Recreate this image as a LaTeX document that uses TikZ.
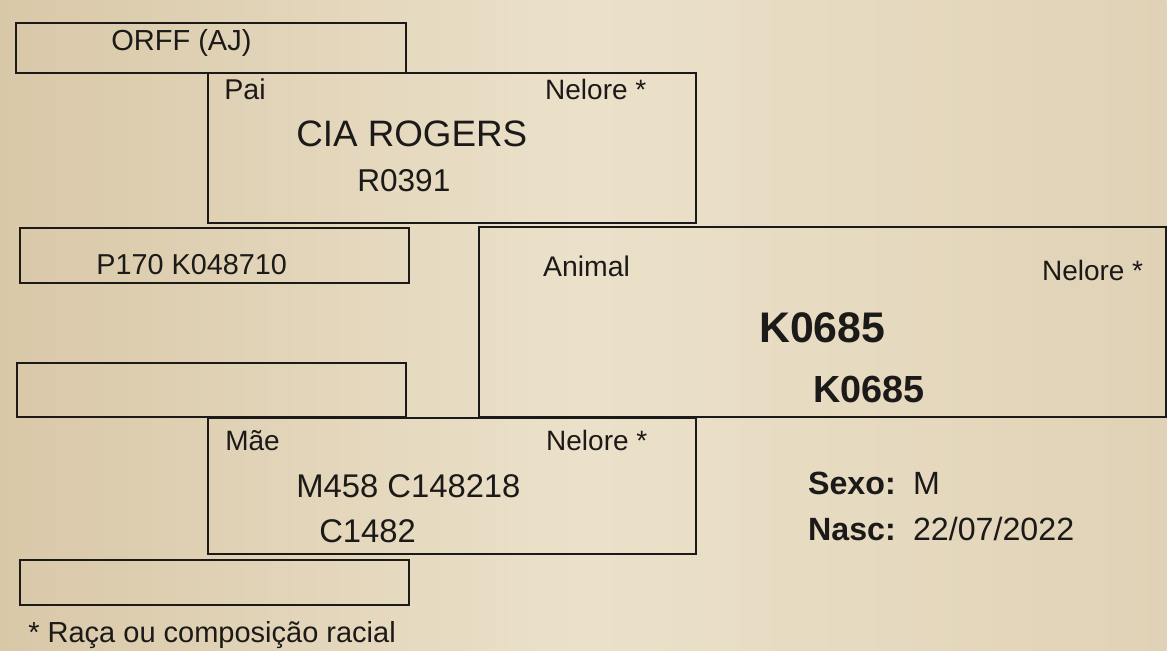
\documentclass[tikz,border=0pt]{standalone}
\usepackage{fontspec}
\setmainfont{Liberation Sans}
\usepackage{xcolor}
\usepackage{tikz}

\definecolor{paper}{RGB}{235,225,202}
\definecolor{paperdark}{RGB}{217,200,168}
\definecolor{ink}{RGB}{28,26,24}
\newcommand{\txtsize}[1]{\fontsize{#1}{#1}\selectfont}

\tikzset{
  box/.style={draw=ink, line width=1.2pt, inner sep=0pt, anchor=north west},
  boxsize/.style 2 args={minimum width=#1*0.5pt, minimum height=#2*0.5pt},
  lbl/.style={anchor=base west, inner sep=0pt, text=ink},
}

\begin{document}
\begin{tikzpicture}[x=0.5pt,y=-0.5pt]
\shade[left color=paperdark, right color=paperdark!60!paper, middle color=paper] (0,0) rectangle (1167,651);

% boxes
\node[box, boxsize={390}{50}]  (avo)    at (15,22)   {};
\node[box, boxsize={488}{150}] (pai)    at (207,72)  {};
\node[box, boxsize={389}{55}]  (avoa)   at (19,227)  {};
\node[box, boxsize={687}{190}] (animal) at (478,226) {};
\node[box, boxsize={389}{54}]  (avom)   at (16,362)  {};
\node[box, boxsize={488}{136}] (mae)    at (207,417) {};
\node[box, boxsize={389}{45}]  (avoam)  at (19,559)  {};

% avos
\node[lbl, font=\txtsize{14.5pt}] (avoname)  at (111,51)  {ORFF (AJ)};
\node[lbl, font=\txtsize{14.4pt}] (avoaname) at (96,275) {P170 K048710};

% pai
\node[lbl, font=\txtsize{14.3pt}] (paitag)  at (224,100) {Pai};
\node[lbl, font=\txtsize{14pt}]   (paibreed) at (545,100) {Nelore *};
\node[lbl, font=\txtsize{18.4pt}] (painame) at (296,147) {CIA ROGERS};
\node[lbl, font=\txtsize{15.8pt}] (paiid)   at (357,192) {R0391};

% animal
\node[lbl, font=\txtsize{14.2pt}] (animaltag)   at (543,277) {Animal};
\node[lbl, font=\txtsize{14pt}]   (animalbreed) at (1042,281) {Nelore *};
\node[lbl, font=\bfseries\txtsize{21.4pt}] (animalname) at (759,343) {K0685};
\node[lbl, font=\bfseries\txtsize{18.9pt}] (animalid)   at (813,403) {K0685};

% mae
\node[lbl, font=\txtsize{14pt}] (maetag)   at (225,451) {Mãe};
\node[lbl, font=\txtsize{14pt}] (maebreed) at (546,451) {Nelore *};
\node[lbl, font=\txtsize{16.4pt}] (maename)  at (296,498) {M458 C148218};
\node[lbl, font=\txtsize{16.4pt}] (maeid)    at (319,543) {C1482};

% dados
\node[lbl, font=\bfseries\txtsize{16.1pt}] (sexotag) at (808,495) {Sexo:};
\node[lbl, font=\txtsize{16.1pt}]          (sexo)    at (913,495) {M};
\node[lbl, font=\bfseries\txtsize{16.1pt}] (nasctag) at (808,541) {Nasc:};
\node[lbl, font=\txtsize{16.1pt}]          (nasc)    at (913,541) {22/07/2022};

\node[lbl, font=\txtsize{14.5pt}] (nota) at (28,643) {* Raça ou composição racial};
\end{tikzpicture}
\end{document}
